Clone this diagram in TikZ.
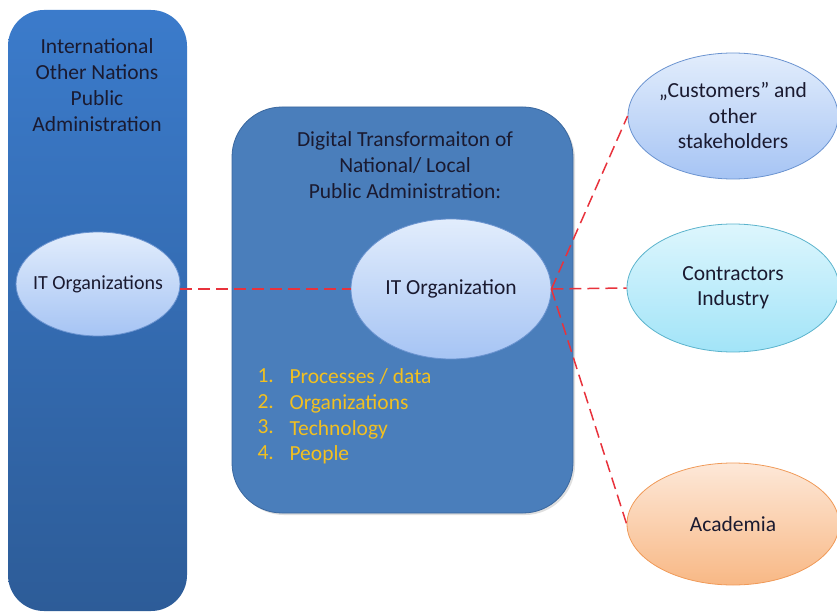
\documentclass[tikz,border=0pt]{standalone}
\usepackage{fontspec}
\setmainfont{Carlito}
\usetikzlibrary{shapes.geometric}
\definecolor{txt}{HTML}{1A1A30}
\definecolor{boxA}{HTML}{3B7BCB}
\definecolor{boxB}{HTML}{2D5C98}
\definecolor{midbox}{HTML}{4A7EBB}
\definecolor{midborder}{HTML}{3A679E}
\definecolor{reddash}{HTML}{E8323C}
\definecolor{listcol}{HTML}{F2C020}
\definecolor{bTop}{HTML}{E2EDFC}
\definecolor{bBot}{HTML}{A6C4F4}
\definecolor{bLine}{HTML}{6A93D0}
\definecolor{cTop}{HTML}{DDF6FD}
\definecolor{cBot}{HTML}{A2E4F8}
\definecolor{cLine}{HTML}{5BB3CC}
\definecolor{oTop}{HTML}{FDE8D8}
\definecolor{oBot}{HTML}{F8B885}
\definecolor{oLine}{HTML}{F09A58}
\tikzset{
  ell/.style={ellipse, draw, line width=0.8pt, shading=axis, shading angle=0, inner sep=0pt, align=center, font=\fontsize{21.5}{25.5}\selectfont, text=txt},
  blueell/.style={ell, draw=bLine, top color=bTop, bottom color=bBot},
  cyanell/.style={ell, draw=cLine, top color=cTop, bottom color=cBot},
  orangeell/.style={ell, draw=oLine, top color=oTop, bottom color=oBot},
  conn/.style={draw=reddash, line width=1.5pt, dash pattern=on 12pt off 6pt},
  title/.style={align=center, text=txt, font=\fontsize{21.5}{26}\selectfont},
  listfont/.style={anchor=north west, align=left, text=listcol, font=\fontsize{21.5}{25.8}\selectfont},
}
\begin{document}
\begin{tikzpicture}[x=1pt,y=-1pt]
\useasboundingbox (0,0) rectangle (837,612);
% left column
\shade[top color=boxA, bottom color=boxB, rounded corners=36pt] (8,10) rectangle (187,611);
\node[title] (lefttitle) at (97,85) {International\\Other Nations\\Public\\Administration};
% middle box
\fill[gray!25, rounded corners=50pt] (234,109) rectangle (575,515);
\draw[fill=midbox, draw=midborder, line width=0.8pt, rounded corners=50pt] (232,107) rectangle (573,513);
\node[title] (midtitle) at (405,165) {Digital Transformaiton of\\National/ Local\\Public Administration:};
% list
\node[listfont] (list) at (254,365) {1.\\2.\\3.\\4.};
\node[listfont] (listtext) at (286,365) {Processes / data\\Organizations\\Technology\\People};
% ellipses
\node[blueell, inner xsep=-12pt, minimum width=164pt, minimum height=104pt, font=\fontsize{20}{24}\selectfont] (leftit) at (98,284) {IT Organizations};
\node[blueell, minimum width=200pt, minimum height=140pt] (cit) at (451,289) {IT Organization};
\node[blueell, minimum width=210pt, minimum height=126pt] (cust) at (733,116) {„Customers” and\\other\\stakeholders};
\node[cyanell, minimum width=212pt, minimum height=128pt] (contr) at (733,288) {Contractors\\Industry};
\node[orangeell, minimum width=212pt, minimum height=122pt] (acad) at (733,524) {Academia};
% connectors
\draw[conn] (leftit.east |- cit.west) -- (cit.west);
\draw[conn] (cit.east) -- (cust.west);
\draw[conn] (cit.east) -- (contr.west);
\draw[conn] (cit.east) -- (acad.west);
\end{tikzpicture}
\end{document}
